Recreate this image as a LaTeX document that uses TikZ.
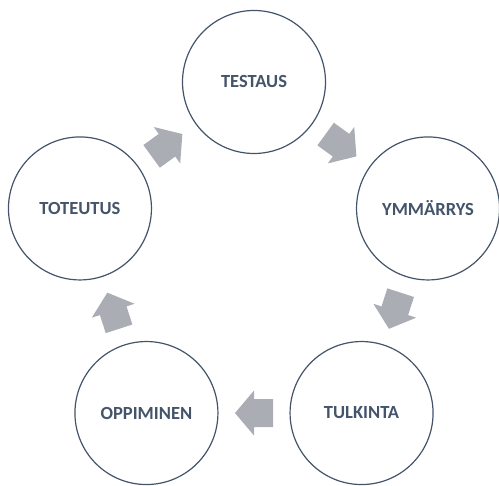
\documentclass[tikz,border=0pt]{standalone}
\usepackage{fontspec}
\setmainfont{Carlito}
\usetikzlibrary{calc}
\definecolor{ink}{HTML}{44546A}
\definecolor{arrowgray}{HTML}{AAADB4}
\begin{document}
\begin{tikzpicture}[x=1pt,y=1pt,
  stage/.style={circle, draw=ink, line width=1.2pt, fill=white, minimum size=143pt, inner sep=0pt,
    font=\fontsize{18.5}{20}\selectfont\bfseries, text=ink},
  flow/.pic={\fill[arrowgray] (19,0) -- (0,22.5) -- (0,14) -- (-19,14) -- (-19,-14) -- (0,-14) -- (0,-22.5) -- cycle;}]
\useasboundingbox (0,0) rectangle (499,486);
\coordinate (c) at (254,221);
\node[stage] (testaus) at ($(c)+(90:183)$) {TESTAUS};
\node[stage] (ymmarrys) at ($(c)+(18:183)$) {YMMÄRRYS};
\node[stage] (tulkinta) at ($(c)+(-54:183)$) {TULKINTA};
\node[stage] (oppiminen) at ($(c)+(-126:183)$) {OPPIMINEN};
\node[stage] (toteutus) at ($(c)+(162:183)$) {TOTEUTUS};
\pic[rotate=36] at ($(toteutus)!0.5!(testaus)$) {flow};
\pic[rotate=-36] at ($(testaus)!0.5!(ymmarrys)$) {flow};
\pic[rotate=-108] at ($(ymmarrys)!0.5!(tulkinta)$) {flow};
\pic[rotate=180] at ($(tulkinta)!0.5!(oppiminen)$) {flow};
\pic[rotate=108] at ($(oppiminen)!0.5!(toteutus)$) {flow};
\end{tikzpicture}
\end{document}
